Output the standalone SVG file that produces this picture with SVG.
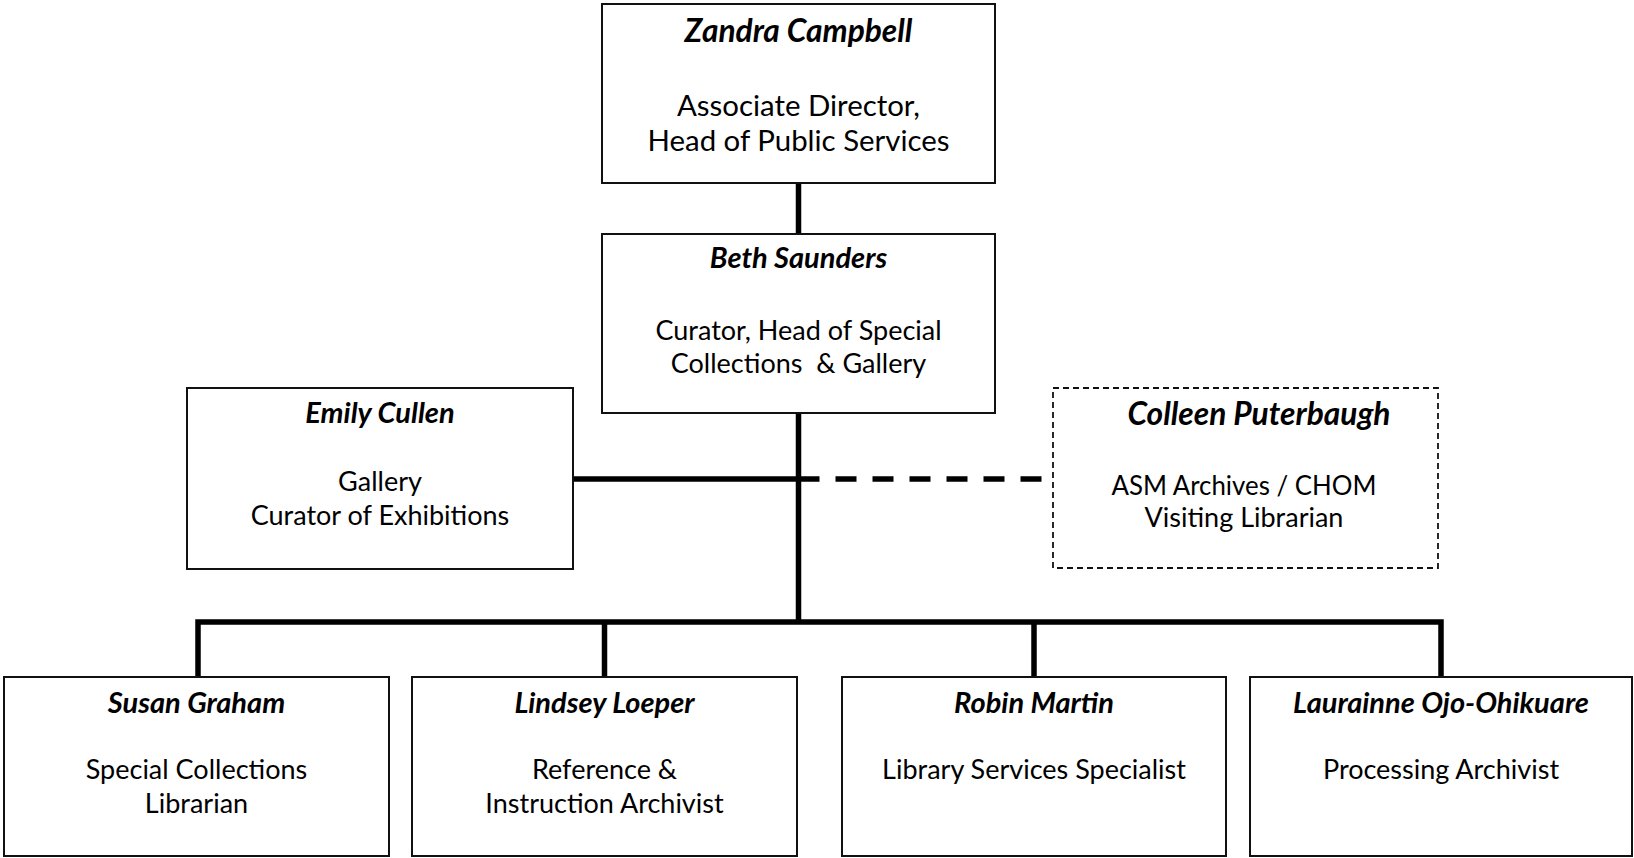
<svg xmlns="http://www.w3.org/2000/svg" width="1634" height="858" viewBox="0 0 1634 858">
<style>
.box{fill:#fff;stroke:#111;stroke-width:2}
.dbox{fill:#fff;stroke:#111;stroke-width:1.8;stroke-dasharray:6 4}
.conn{stroke:#000;stroke-width:5.5;fill:none}
.dash{stroke:#000;stroke-width:5.5;fill:none;stroke-dasharray:21 16}
.name{font-family:Lato,"Liberation Sans",sans-serif;font-weight:bold;font-style:italic;text-anchor:middle;fill:#000;font-size:29px}
.big{font-size:31.7px}
.title{font-family:Lato,"Liberation Sans",sans-serif;text-anchor:middle;fill:#000;font-size:27px}
.tbig{font-size:29.4px}
</style>
<rect width="1634" height="858" fill="#fff"/>
<g id="connectors">
<path class="conn" d="M798.5 183V234"/>
<path class="conn" d="M798.5 413V622"/>
<path class="conn" d="M573 479H798.5"/>
<path class="dash" d="M798.5 479H1043"/>
<path class="conn" d="M198 677V622H1441V677"/>
<path class="conn" d="M604.5 622V677"/>
<path class="conn" d="M1034 622V677"/>
</g>
<g id="zandra">
<rect class="box" x="602" y="4" width="393" height="179"/>
<text class="name big" x="798.5" y="42">Zandra Campbell</text>
<text class="title tbig" x="798.5" y="116">Associate Director,</text>
<text class="title tbig" x="798.5" y="151">Head of Public Services</text>
</g>
<g id="beth">
<rect class="box" x="602" y="234" width="393" height="179"/>
<text class="name" x="798.5" y="268">Beth Saunders</text>
<text class="title" x="798.5" y="340">Curator, Head of Special</text>
<text class="title" x="798.5" y="373" xml:space="preserve" style="white-space:pre">Collections  &amp; Gallery</text>
</g>
<g id="emily">
<rect class="box" x="187" y="388" width="386" height="181"/>
<text class="name" x="380" y="423">Emily Cullen</text>
<text class="title" x="380" y="491">Gallery</text>
<text class="title" x="380" y="525">Curator of Exhibitions</text>
</g>
<g id="colleen">
<rect class="dbox" x="1053" y="388" width="385" height="180"/>
<text class="name big" x="1259" y="425">Colleen Puterbaugh</text>
<text class="title" x="1244" y="495" textLength="265" lengthAdjust="spacingAndGlyphs">ASM Archives / CHOM</text>
<text class="title" x="1244" y="527">Visiting Librarian</text>
</g>
<g id="susan">
<rect class="box" x="4" y="677" width="385" height="179"/>
<text class="name" x="196.5" y="713">Susan Graham</text>
<text class="title" x="196.5" y="779">Special Collections</text>
<text class="title" x="196.5" y="813">Librarian</text>
</g>
<g id="lindsey">
<rect class="box" x="412" y="677" width="385" height="179"/>
<text class="name" x="604.5" y="713">Lindsey Loeper</text>
<text class="title" x="604.5" y="779">Reference &amp;</text>
<text class="title" x="604.5" y="813">Instruction Archivist</text>
</g>
<g id="robin">
<rect class="box" x="842" y="677" width="384" height="179"/>
<text class="name" x="1034" y="713">Robin Martin</text>
<text class="title" x="1034" y="779">Library Services Specialist</text>
</g>
<g id="laurainne">
<rect class="box" x="1250" y="677" width="382" height="179"/>
<text class="name" x="1441" y="713">Laurainne Ojo-Ohikuare</text>
<text class="title" x="1441" y="779">Processing Archivist</text>
</g>
</svg>
